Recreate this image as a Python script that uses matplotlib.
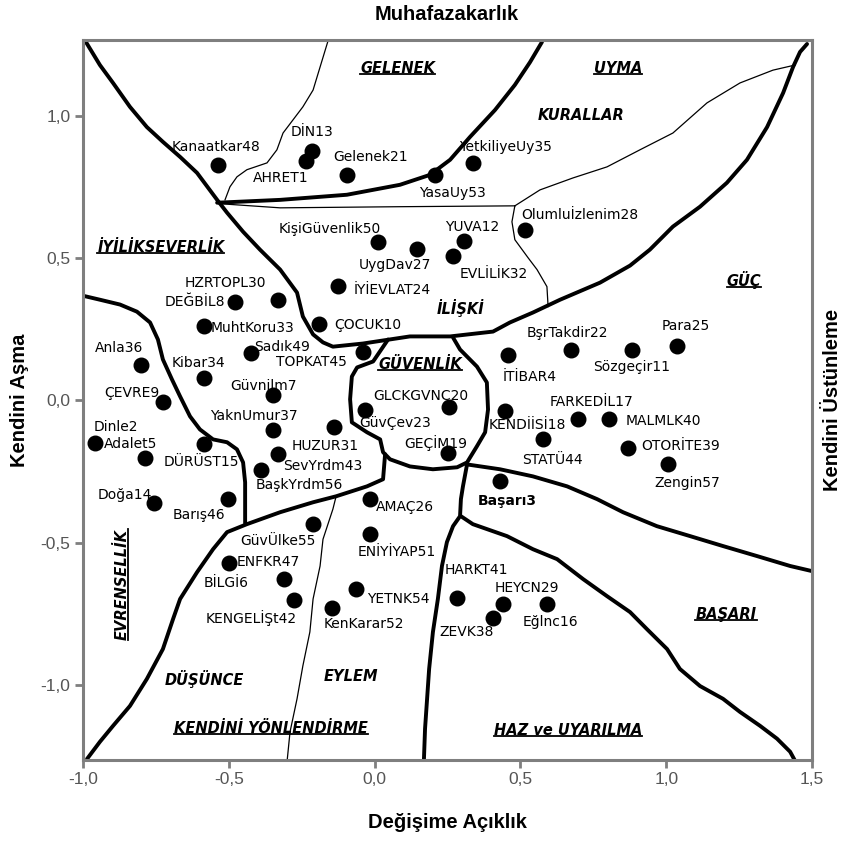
import matplotlib
matplotlib.use("Agg")
import matplotlib.pyplot as plt
from matplotlib import font_manager

# değer noktaları (Değişime Açıklık, Kendini Aşma)
names = ["AHRET1", "Dinle2", "Başarı3", "İTİBAR4", "Adalet5", "BİLGİ6", "Güvnilm7",
         "DEĞBİL8", "ÇEVRE9", "ÇOCUK10", "Sözgeçir11", "YUVA12", "DİN13", "Doğa14",
         "DÜRÜST15", "Eğlnc16", "FARKEDİL17", "KENDİİSİ18", "GEÇİM19", "GLCKGVNC20",
         "Gelenek21", "BşrTakdir22", "GüvÇev23", "İYİEVLAT24", "Para25", "AMAÇ26",
         "UygDav27", "Olumluİzlenim28", "HEYCN29", "HZRTOPL30", "HUZUR31", "EVLİLİK32",
         "MuhtKoru33", "Kibar34", "YetkiliyeUy35", "Anla36", "YaknUmur37", "ZEVK38",
         "OTORİTE39", "MALMLK40", "HARKT41", "KENGELİŞt42", "SevYrdm43", "STATÜ44",
         "TOPKAT45", "Barış46", "ENFKR47", "Kanaatkar48", "Sadık49", "KişiGüvenlik50",
         "ENİYİYAP51", "KenKarar52", "YasaUy53", "YETNK54", "GüvÜlke55", "BaşkYrdm56",
         "Zengin57"]
xs = [-0.235, -0.959, 0.430, 0.459, -0.787, -0.498, -0.347,
      -0.479, -0.727, -0.190, 0.884, 0.307, -0.216, -0.757,
      -0.585, 0.592, 0.696, 0.447, 0.253, 0.256,
      -0.096, 0.672, -0.033, -0.124, 1.038, -0.016,
      0.146, 0.516, 0.441, -0.330, -0.138, 0.270,
      -0.585, -0.585, 0.338, -0.801, -0.347, 0.405,
      0.870, 0.804, 0.284, -0.277, -0.332, 0.576,
      -0.041, -0.504, -0.312, -0.538, -0.424, 0.011,
      -0.016, -0.145, 0.207, -0.064, -0.210, -0.390,
      1.007]
ys = [0.842, -0.149, -0.283, 0.161, -0.204, -0.573, 0.019,
      0.346, -0.006, 0.270, 0.177, 0.559, 0.877, -0.361,
      -0.154, -0.716, -0.067, -0.038, -0.186, -0.023,
      0.793, 0.177, -0.035, 0.401, 0.191, -0.345,
      0.532, 0.600, -0.716, 0.354, -0.094, 0.506,
      0.263, 0.080, 0.834, 0.124, -0.105, -0.766,
      -0.168, -0.067, -0.695, -0.702, -0.189, -0.134,
      0.171, -0.347, -0.628, 0.828, 0.165, 0.557,
      -0.468, -0.730, 0.793, -0.663, -0.435, -0.246,
      -0.225]

# etiketlerin noktaya göre kayması (piksel; sağa +, aşağı +)
label_off = {
    "Kanaatkar48": (-2, -18), "DİN13": (0, -19), "AHRET1": (-25, 17), "Gelenek21": (24, -18),
    "YasaUy53": (17, 18), "YetkiliyeUy35": (32, -16), "KişiGüvenlik50": (-48, -13),
    "UygDav27": (-22, 16), "YUVA12": (8, -14), "EVLİLİK32": (40, 18), "Olumluİzlenim28": (55, -15),
    "HZRTOPL30": (-53, -17), "DEĞBİL8": (-40, 0), "MuhtKoru33": (48, 2), "İYİEVLAT24": (54, 4),
    "ÇOCUK10": (49, 1), "Sadık49": (31, -6), "TOPKAT45": (-51, 10), "Anla36": (-22, -17),
    "Kibar34": (-6, -15), "Güvnilm7": (-10, -9), "ÇEVRE9": (-31, -9), "YaknUmur37": (-20, -14),
    "HUZUR31": (-9, 19), "SevYrdm43": (45, 12), "BaşkYrdm56": (38, 15), "Dinle2": (21, -16),
    "Adalet5": (-15, -14), "DÜRÜST15": (-3, 18), "Doğa14": (-29, -8), "Barış46": (-29, 16),
    "AMAÇ26": (35, 8), "GüvÇev23": (30, 13), "GLCKGVNC20": (-28, -11), "GEÇİM19": (-13, -10),
    "İTİBAR4": (21, 22), "KENDİİSİ18": (22, 14), "Başarı3": (7, 20), "BşrTakdir22": (-3, -17),
    "Sözgeçir11": (-1, 17), "Para25": (8, -20), "FARKEDİL17": (14, -17), "MALMLK40": (54, 2),
    "STATÜ44": (10, 21), "OTORİTE39": (52, -2), "Zengin57": (19, 19), "GüvÜlke55": (-35, 17),
    "ENİYİYAP51": (27, 18), "BİLGİ6": (-3, 20), "ENFKR47": (-15, -17), "KENGELİŞt42": (-43, 18),
    "KenKarar52": (32, 16), "YETNK54": (42, 10), "HARKT41": (19, -28), "HEYCN29": (24, -16),
    "ZEVK38": (-26, 14), "Eğlnc16": (3, 18),
}

# bölge sınırları (elle çizilmiş eğriler)
thick_lines = [
    # üst sol köşeden sağ üst köşeye
    [(-0.990, 1.260), (-0.942, 1.179), (-0.897, 1.116), (-0.839, 1.032), (-0.781, 0.961),
     (-0.726, 0.909), (-0.667, 0.856), (-0.609, 0.800), (-0.540, 0.705), (-0.506, 0.660),
     (-0.451, 0.593), (-0.393, 0.530), (-0.324, 0.460), (-0.266, 0.379), (-0.246, 0.295),
     (-0.211, 0.232), (-0.177, 0.204), (-0.143, 0.189), (-0.040, 0.200), (0.121, 0.225),
     (0.259, 0.225), (0.406, 0.242), (0.464, 0.274), (0.543, 0.309), (0.636, 0.354),
     (0.773, 0.414), (0.876, 0.474), (0.944, 0.530), (1.023, 0.611), (1.116, 0.681),
     (1.208, 0.765), (1.277, 0.846), (1.346, 0.961), (1.401, 1.081), (1.435, 1.172),
     (1.459, 1.225), (1.483, 1.253)],
    # gelenek alt sınırı
    [(-0.540, 0.695), (-0.324, 0.705), (-0.095, 0.723), (0.087, 0.758), (0.190, 0.793),
     (0.259, 0.846), (0.327, 0.926), (0.413, 1.021), (0.481, 1.109), (0.533, 1.189),
     (0.574, 1.260)],
    # iyilikseverlik / evrensellik
    [(-1.000, 0.368), (-0.942, 0.354), (-0.873, 0.337), (-0.815, 0.312), (-0.770, 0.274),
     (-0.743, 0.214), (-0.726, 0.144), (-0.695, 0.074), (-0.667, 0.014), (-0.633, -0.056),
     (-0.599, -0.102), (-0.554, -0.137), (-0.506, -0.147), (-0.472, -0.172), (-0.451, -0.218),
     (-0.444, -0.288), (-0.444, -0.432)],
    # evrensellik / düşünce
    [(-0.986, -1.260), (-0.942, -1.200), (-0.897, -1.144), (-0.839, -1.074), (-0.781, -0.979),
     (-0.726, -0.874), (-0.691, -0.768), (-0.667, -0.698), (-0.609, -0.604), (-0.554, -0.523),
     (-0.506, -0.463), (-0.438, -0.435), (-0.324, -0.393), (-0.211, -0.358), (-0.132, -0.337),
     (-0.026, -0.302), (0.029, -0.277), (0.036, -0.189)],
    # güvenlik
    [(0.046, 0.214), (-0.005, 0.137), (-0.060, 0.116), (-0.078, 0.084), (-0.084, 0.004),
     (-0.078, -0.077), (-0.026, -0.112), (0.019, -0.137), (0.029, -0.182), (0.053, -0.207),
     (0.121, -0.232), (0.200, -0.242), (0.283, -0.235), (0.317, -0.218), (0.351, -0.161),
     (0.379, -0.112), (0.389, -0.032), (0.385, 0.063), (0.351, 0.119), (0.293, 0.179),
     (0.269, 0.221)],
    # başarı / güç
    [(0.317, -0.225), (0.430, -0.242), (0.543, -0.267), (0.660, -0.302), (0.763, -0.347),
     (0.852, -0.393), (0.968, -0.442), (1.082, -0.477), (1.195, -0.512), (1.311, -0.547),
     (1.425, -0.582), (1.500, -0.600)],
    # eylem / haz
    [(0.317, -0.225), (0.303, -0.302), (0.296, -0.347), (0.293, -0.407), (0.269, -0.442),
     (0.248, -0.498), (0.231, -0.582), (0.217, -0.698), (0.200, -0.814), (0.187, -0.944),
     (0.180, -1.049), (0.173, -1.154), (0.169, -1.267)],
    # haz / başarı
    [(0.296, -0.407), (0.337, -0.435), (0.454, -0.477), (0.543, -0.523), (0.626, -0.558),
     (0.715, -0.628), (0.797, -0.688), (0.876, -0.744), (0.934, -0.804), (1.003, -0.874),
     (1.047, -0.944), (1.116, -1.004), (1.195, -1.049), (1.253, -1.095), (1.322, -1.144),
     (1.380, -1.189), (1.425, -1.235), (1.442, -1.267)],
]
thin_lines = [
    [(-0.523, 0.691), (-0.324, 0.677), (0.087, 0.681), (0.481, 0.684)],
    [(0.481, 0.684), (0.471, 0.628), (0.481, 0.565), (0.526, 0.502), (0.557, 0.460),
     (0.591, 0.400), (0.595, 0.330)],
    [(0.481, 0.684), (0.567, 0.740), (0.680, 0.782), (0.797, 0.821), (0.910, 0.881),
     (1.023, 0.940), (1.140, 1.046), (1.253, 1.116), (1.366, 1.161), (1.442, 1.179)],
    [(-0.160, 1.263), (-0.187, 1.172), (-0.211, 1.091), (-0.246, 1.032), (-0.280, 0.986),
     (-0.314, 0.940), (-0.335, 0.881), (-0.369, 0.835), (-0.438, 0.811), (-0.472, 0.786),
     (-0.496, 0.751), (-0.513, 0.705)],
    [(-0.132, -0.337), (-0.143, -0.382), (-0.177, -0.488), (-0.187, -0.582), (-0.211, -0.698),
     (-0.222, -0.814), (-0.246, -0.933), (-0.266, -1.049), (-0.290, -1.165), (-0.300, -1.267)],
]

# bölge adları: (metin, x, y, altı çizili, dönüş)
regions = [
    ("GELENEK", 0.080, 1.168, True, 0), ("UYMA", 0.835, 1.168, True, 0),
    ("KURALLAR", 0.708, 1.000, False, 0), ("İYİLİKSEVERLİK", -0.733, 0.537, True, 0),
    ("GÜÇ", 1.267, 0.425, True, 0), ("İLİŞKİ", 0.296, 0.326, False, 0),
    ("GÜVENLİK", 0.156, 0.126, True, 0), ("EVRENSELLİK", -0.866, -0.646, True, 90),
    ("DÜŞÜNCE", -0.585, -0.979, False, 0), ("EYLEM", -0.081, -0.972, False, 0),
    ("KENDİNİ YÖNLENDİRME", -0.355, -1.154, True, 0), ("BAŞARI", 1.205, -0.751, True, 0),
    ("HAZ ve UYARILMA", 0.663, -1.161, True, 0),
]

xticks = [-1.0, -0.5, 0.0, 0.5, 1.0, 1.5]
yticks = [-1.0, -0.5, 0.0, 0.5, 1.0]

available = {f.name for f in font_manager.fontManager.ttflist}
narrow = "Liberation Sans Narrow" if "Liberation Sans Narrow" in available else "Liberation Sans"

fig = plt.figure(figsize=(8.45, 8.41), dpi=100)
ax = fig.add_axes([83 / 845, 81 / 841, 729 / 845, 720 / 841])
ax.set_xlim(-1.0, 1.5)
ax.set_ylim(-1.264, 1.267)

for ln in thick_lines:
    ax.plot([p[0] for p in ln], [p[1] for p in ln], color="black", lw=2.8,
            solid_joinstyle="round", solid_capstyle="round", zorder=2)
for ln in thin_lines:
    ax.plot([p[0] for p in ln], [p[1] for p in ln], color="black", lw=0.9, zorder=2)

ax.scatter(xs, ys, s=110, color="black", zorder=3)
for n, x, y in zip(names, xs, ys):
    dx, dy = label_off[n]
    ax.annotate(n, (x, y), xytext=(dx, -dy), textcoords="offset pixels",
                ha="center", va="center", fontsize=10, family="DejaVu Sans",
                fontweight="bold" if n == "Başarı3" else "normal", zorder=4)

reg_texts = []
for t, x, y, ul, rot in regions:
    tx = ax.text(x, y, t, ha="center", va="center", rotation=rot, fontsize=10.5,
                 fontweight="bold", fontstyle="italic", family="DejaVu Sans", zorder=4)
    reg_texts.append((tx, ul, rot))

ax.set_xticks(xticks)
ax.set_yticks(yticks)
ax.set_xticklabels([f"{v:.1f}".replace(".", ",") for v in xticks])
ax.set_yticklabels([f"{v:.1f}".replace(".", ",") for v in yticks])
ax.tick_params(direction="out", length=6, width=2, color="#7f7f7f", labelcolor="#555555",
               labelsize=12.5, pad=3)
for lab in ax.get_xticklabels() + ax.get_yticklabels():
    lab.set_family(narrow)
for sp in ax.spines.values():
    sp.set_color("#7f7f7f")
    sp.set_linewidth(2.2)

fig.text(447 / 845, 1 - 15 / 841, "Muhafazakarlık", ha="center", va="center",
         fontsize=14.5, fontweight="bold", family=narrow)
fig.text(447 / 845, 1 - 822 / 841, "Değişime Açıklık", ha="center", va="center",
         fontsize=14.5, fontweight="bold", family=narrow)
fig.text(20 / 845, 1 - 400 / 841, "Kendini Aşma", ha="center", va="center", rotation=90,
         fontsize=14.5, fontweight="bold", family=narrow)
fig.text(833 / 845, 1 - 400 / 841, "Kendini Üstünleme", ha="center", va="center", rotation=90,
         fontsize=14.5, fontweight="bold", family=narrow)

# alt çizgiler
fig.canvas.draw()
rend = fig.canvas.get_renderer()
inv = ax.transData.inverted()
for tx, ul, rot in reg_texts:
    if not ul:
        continue
    bb = tx.get_window_extent(rend)
    if rot == 90:
        (x0, y0), (x1, y1) = inv.transform([(bb.x1 - 2, bb.y0), (bb.x1 - 2, bb.y1)])
    else:
        (x0, y0), (x1, y1) = inv.transform([(bb.x0, bb.y0 + 2), (bb.x1, bb.y0 + 2)])
    ax.plot([x0, x1], [y0, y1], color="black", lw=1.3, zorder=4)

fig.savefig("out.png", dpi=100)
